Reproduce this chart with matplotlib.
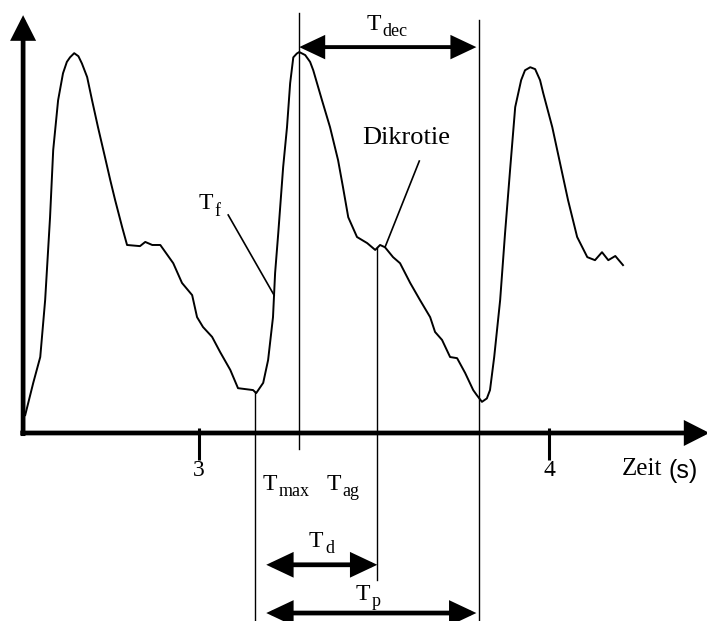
import numpy as np
import matplotlib.pyplot as plt
from matplotlib.patches import FancyArrowPatch

plt.rcParams['font.family'] = 'Liberation Serif'

# Pulskurve: Zeit in s, Amplitude normiert auf das erste Maximum
zeit = [2.503, 2.526, 2.546, 2.560, 2.574, 2.583, 2.597, 2.611, 2.622, 2.631,
        2.643, 2.655, 2.665, 2.680, 2.694, 2.711, 2.731, 2.746, 2.760, 2.780,
        2.794, 2.831, 2.846, 2.866, 2.889, 2.926, 2.951, 2.980, 2.994, 3.011,
        3.037, 3.060, 3.089, 3.111, 3.154, 3.163, 3.183, 3.197, 3.211, 3.217,
        3.226, 3.240, 3.251, 3.260, 3.269, 3.279, 3.286, 3.303, 3.317, 3.326,
        3.351, 3.374, 3.397, 3.411, 3.426, 3.451, 3.480, 3.503, 3.517, 3.531,
        3.554, 3.574, 3.603, 3.631, 3.660, 3.674, 3.694, 3.717, 3.737, 3.760,
        3.783, 3.793, 3.808, 3.822, 3.831, 3.843, 3.860, 3.874, 3.889, 3.903,
        3.920, 3.931, 3.946, 3.960, 3.974, 3.983, 4.009, 4.031, 4.054, 4.080,
        4.109, 4.131, 4.151, 4.169, 4.189, 4.211]
amplitude = [0.047, 0.132, 0.200, 0.350, 0.568, 0.745, 0.876, 0.947, 0.977, 0.989,
             1.000, 0.992, 0.973, 0.937, 0.876, 0.805, 0.726, 0.666, 0.613, 0.542,
             0.495, 0.492, 0.503, 0.495, 0.495, 0.447, 0.395, 0.363, 0.305, 0.279,
             0.253, 0.213, 0.166, 0.118, 0.113, 0.105, 0.132, 0.192, 0.305, 0.421,
             0.526, 0.700, 0.805, 0.921, 0.989, 0.999, 1.003, 0.995, 0.977, 0.955,
             0.876, 0.805, 0.718, 0.647, 0.568, 0.516, 0.500, 0.482, 0.495, 0.489,
             0.463, 0.447, 0.395, 0.350, 0.305, 0.266, 0.245, 0.200, 0.197, 0.158,
             0.113, 0.100, 0.082, 0.091, 0.113, 0.200, 0.350, 0.526, 0.700, 0.858,
             0.929, 0.955, 0.963, 0.958, 0.929, 0.895, 0.805, 0.711, 0.613, 0.516,
             0.463, 0.455, 0.476, 0.455, 0.466, 0.442]

# Kennzeitpunkte (s)
t_fuss = 3.160     # Fusspunkt vor dem Anstieg
t_f = 3.214        # Anstiegspunkt
t_max = 3.286      # Maximum
t_ag = 3.509       # Dikrotie
t_fuss2 = 3.800    # naechster Fusspunkt

zeit_ticks = [3, 4]

fig = plt.figure(figsize=(7.07, 6.21), dpi=100)
ax = fig.add_axes([0, 0, 1, 1])
ax.set_xlim(2.431, 4.451)
ax.set_ylim(-0.495, 1.140)
ax.axis('off')


def pfeil(x0, y0, x1, y1, stil, lw, hl, hw, sa=0, sb=0):
    p = FancyArrowPatch((x0, y0), (x1, y1),
                        arrowstyle=f'{stil},head_length={hl},head_width={hw}',
                        mutation_scale=20, lw=lw, color='black',
                        shrinkA=sa, shrinkB=sb, joinstyle='miter',
                        capstyle='butt', clip_on=False)
    ax.add_patch(p)


def t_name(x, y, index):
    # "T" mit tiefgestelltem Index
    ax.text(x, y, 'T', fontsize=17, va='baseline')
    ax.annotate(index, xy=(x, y), xytext=(12, -4.5), textcoords='offset points',
                fontsize=13, va='baseline')


def kurve_bei(t):
    return np.interp(t, zeit, amplitude)


# Achsen
pfeil(2.489, 0, 4.458, 0, '-|>', 3.4, 0.65, 0.33)
pfeil(2.497, -0.008, 2.497, 1.100, '-|>', 3.4, 0.65, 0.33)
for t in zeit_ticks:
    ax.plot([t, t], [0.013, -0.072], color='black', lw=2.2, solid_capstyle='butt')
    ax.text(t, -0.113, str(t), ha='center', va='baseline', fontsize=17)
ax.text(4.206, -0.111, 'Zeit', ha='left', va='baseline', fontsize=18)
ax.text(4.340, -0.118, '(s)', ha='left', va='baseline', fontsize=18,
        family='Liberation Sans')

# Pulskurve
ax.plot(zeit, amplitude, color='black', lw=1.4, solid_joinstyle='round')

# Markierungslinien
dunn = dict(color='black', lw=1.0)
ax.plot([t_fuss, t_fuss], [kurve_bei(t_fuss), -0.495], **dunn)
ax.plot([t_max, t_max], [1.105, -0.042], **dunn)
ax.plot([t_ag, t_ag], [kurve_bei(t_ag), -0.387], **dunn)
ax.plot([t_fuss2, t_fuss2], [1.087, -0.495], **dunn)

# Zeitintervalle
pfeil(t_max, 1.016, t_fuss2, 1.016, '<|-|>', 2.8, 0.7, 0.33, sa=0, sb=2)
pfeil(t_fuss, -0.347, t_ag, -0.347, '<|-|>', 3.4, 0.7, 0.33, sa=8, sb=0)
pfeil(t_fuss, -0.474, t_fuss2, -0.474, '<|-|>', 3.4, 0.7, 0.33, sa=8, sb=2)

t_name(3.477, 1.061, 'dec')
t_name(3.180, -0.150, 'max')
t_name(3.363, -0.150, 'ag')
t_name(3.314, -0.300, 'd')
t_name(3.446, -0.439, 'p')

# Beschriftungen mit Hinweislinie
t_name(2.997, 0.589, 'f')
ax.plot([3.083, t_f], [0.574, kurve_bei(t_f)], color='black', lw=1.2)
ax.text(3.466, 0.760, 'Dikrotie', fontsize=19, va='baseline')
ax.plot([3.629, 3.531], [0.716, kurve_bei(3.531)], color='black', lw=1.2)

fig.savefig('out.png', dpi=100)
